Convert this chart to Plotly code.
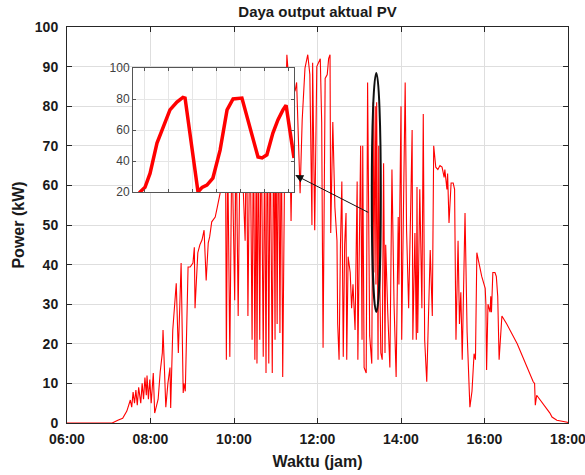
import plotly.graph_objects as go

# ---------------- data ----------------
DAY = "2024-01-01 "

time_labels = [
    "06:00", "07:05", "07:13", "07:20", "07:26", "07:31", "07:33", "07:35", "07:37", "07:39",
    "07:41", "07:43", "07:46", "07:48", "07:50", "07:52", "07:54", "07:55", "07:57", "07:59",
    "08:01", "08:04", "08:06", "08:11", "08:14", "08:17", "08:18", "08:20", "08:22", "08:25",
    "08:28", "08:29", "08:32", "08:37", "08:40", "08:44", "08:47", "08:48", "08:50", "08:54",
    "08:57", "09:01", "09:03", "09:04", "09:08", "09:11", "09:14", "09:17", "09:20", "09:23",
    "09:25", "09:28", "09:33", "09:36", "09:40", "09:43", "09:46", "09:48", "09:49", "09:51",
    "09:54", "09:57", "10:01", "10:03", "10:06", "10:09", "10:11", "10:16", "10:18", "10:20",
    "10:23", "10:26", "10:28", "10:30", "10:32", "10:33", "10:35", "10:37", "10:39", "10:42",
    "10:44", "10:46", "10:48", "10:50", "10:52", "10:55", "10:57", "10:59", "11:00", "11:02",
    "11:04", "11:06", "11:08", "11:10", "11:13", "11:16", "11:19", "11:22", "11:25", "11:28",
    "11:30", "11:35", "11:38", "11:42", "11:46", "11:49", "11:52", "11:53", "11:56", "11:59",
    "12:04", "12:06", "12:08", "12:11", "12:14", "12:16", "12:18", "12:19", "12:21", "12:22",
    "12:25", "12:28", "12:29", "12:31", "12:33", "12:35", "12:37", "12:39", "12:41", "12:42",
    "12:44", "12:47", "12:49", "12:51", "12:54", "12:57", "12:58", "13:01", "13:02", "13:04",
    "13:05", "13:07", "13:10", "13:12", "13:14", "13:15", "13:18", "13:20", "13:21", "13:23",
    "13:24", "13:25", "13:27", "13:28", "13:30", "13:31", "13:33", "13:35", "13:37", "13:38",
    "13:41", "13:44", "13:47", "13:50", "13:53", "13:56", "13:57", "14:00", "14:01", "14:03",
    "14:06", "14:08", "14:11", "14:14", "14:16", "14:17", "14:20", "14:22", "14:23", "14:24",
    "14:27", "14:30", "14:32", "14:34", "14:37", "14:42", "14:45", "14:47", "14:50", "14:53",
    "14:56", "14:59", "15:02", "15:03", "15:06", "15:07", "15:09", "15:12", "15:15", "15:17",
    "15:19", "15:22", "15:24", "15:26", "15:28", "15:32", "15:35", "15:39", "15:42", "15:45",
    "15:47", "15:49", "15:53", "15:56", "16:01", "16:02", "16:03", "16:05", "16:08", "16:09",
    "16:10", "16:12", "16:15", "16:17", "16:19", "16:21", "16:25", "16:32", "16:47", "17:01",
    "17:10", "17:12", "17:13", "17:15", "17:24", "17:34", "17:37", "17:44", "17:59", "18:00",
]

power_kw = [
    0, 0, 0.7, 1.2, 3, 5.8, 4, 7.8, 5, 8.3,
    4.5, 9, 5, 10, 6, 11.5, 7, 12, 6, 11,
    5, 12.6, 2.5, 6, 13, 17.7, 23.5, 14, 4, 10,
    14, 3.8, 23.5, 35.3, 17.7, 40.4, 7.6, 10, 8, 39.4,
    39.4, 40.4, 44.4, 29, 43, 45, 46.2, 48.7, 36, 45.5,
    47, 50.8, 52, 54.5, 58, 65, 70, 62, 16, 68,
    16.7, 72, 31, 74, 27, 76, 70, 46, 78, 27,
    80, 21, 78, 16, 70, 15, 75, 21, 80, 16.7,
    72, 12.6, 82, 15, 76, 12.6, 80, 21, 84, 25,
    82, 22.7, 78, 11.6, 70, 93, 86, 51, 83, 84,
    86, 58, 76.5, 89.6, 93, 88, 50, 91, 48.7, 90,
    92, 76, 19, 87, 88, 92, 93, 48, 71.5, 76,
    54.5, 46, 25, 16, 45, 61, 16.7, 45, 53, 16,
    42, 38, 29, 35, 23.5, 61, 16, 63, 70, 21,
    70, 14, 12.6, 86, 30, 22, 15, 81, 38, 80,
    35, 81, 16, 70, 30, 17.7, 16, 65.6, 17.7, 45,
    27.8, 14, 64, 30, 11.6, 52, 35, 80, 21, 46,
    86, 48.7, 29, 55, 74, 21, 48, 21, 59.6, 22.7,
    59, 29, 78, 21, 10.4, 43.7, 27, 70, 64.6, 64,
    65, 64.6, 62, 64, 59, 63, 50.5, 60.6, 60.6, 59,
    21, 46, 25, 33, 16, 53, 23, 4, 8, 17.5,
    16, 43, 39, 37, 34, 30, 13.4, 30, 28, 32,
    28, 38, 38, 37, 32, 16, 27, 25, 20, 14,
    10.4, 10, 4.5, 7, 5, 2.5, 1.5, 0.7, 0.2, 0,
]

# zoomed inset (sample index scale)
inset_x = [0.21, 0.29, 0.5, 0.71, 1.0, 1.25, 1.54, 1.83, 2.08, 2.17, 2.71, 2.88, 3.08,
           3.33, 3.63, 3.92, 4.17, 4.54, 5.21, 5.38, 5.58, 5.83, 6.04, 6.25, 6.38, 6.71]
inset_y = [18, 20, 23, 32, 51.6, 62, 73, 78, 81, 80.6, 20, 23, 24.5,
           29, 47, 73, 80, 80.6, 42.6, 42, 44, 58, 66.5, 73, 76, 42]

x_tick_labels = ["06:00", "08:00", "10:00", "12:00", "14:00", "16:00", "18:00"]
y_ticks = [0, 10, 20, 30, 40, 50, 60, 70, 80, 90, 100]
inset_y_ticks = [20, 40, 60, 80, 100]

# highlighted region (ellipse) and arrow target
ellipse_t = ["13:18", "13:31"]
ellipse_p = [28, 88.4]
arrow_head = ("11:28", 62.6)
arrow_tail = ("13:15", 53)

# ---------------- figure ----------------
times = [DAY + t for t in time_labels]
AX = "#262626"
GRID = "#dedede"
FAM = "Liberation Sans, Arial, sans-serif"

fig = go.Figure()
fig.add_trace(go.Scatter(x=times, y=power_kw, mode="lines",
                         line=dict(color="#ff0000", width=1.1), xaxis="x", yaxis="y",
                         showlegend=False, hoverinfo="skip"))
fig.add_trace(go.Scatter(x=inset_x, y=inset_y, mode="lines",
                         line=dict(color="#ff0000", width=3.5), xaxis="x2", yaxis="y2",
                         showlegend=False, hoverinfo="skip"))

bold = dict(family=FAM, size=14, color="#1a1a1a")
label_font = dict(family=FAM, size=16, color="#1a1a1a")

fig.update_layout(
    width=585, height=475,
    margin=dict(l=67, r=17, t=27, b=52),
    paper_bgcolor="white", plot_bgcolor="white",
    font=dict(family=FAM, color="#1a1a1a"),
    title=dict(text="<b>Daya output aktual PV</b>", x=0.5, xref="paper", xanchor="center",
               yref="container", y=0.975, yanchor="middle",
               font=dict(size=15, family=FAM, color="#1a1a1a")),
    xaxis=dict(
        type="date", domain=[0, 1], automargin=False,
        range=[DAY + x_tick_labels[0], DAY + x_tick_labels[-1]],
        tickvals=[DAY + t for t in x_tick_labels],
        ticktext=["<b>%s</b>" % t for t in x_tick_labels],
        tickfont=bold, ticks="inside", ticklen=5, tickcolor=AX,
        ticklabeloverflow="allow", ticklabelstandoff=3,
        showline=True, linecolor=AX, linewidth=1, mirror="ticks",
        showgrid=True, gridcolor=GRID, gridwidth=1, zeroline=False,
        title=dict(text="<b>Waktu (jam)</b>", font=label_font, standoff=10),
    ),
    yaxis=dict(
        range=[0, 100], domain=[0, 1], automargin=False,
        tickvals=y_ticks, ticktext=["<b>%d</b>" % v for v in y_ticks],
        tickfont=bold, ticks="inside", ticklen=5, tickcolor=AX,
        ticklabelstandoff=5,
        showline=True, linecolor=AX, linewidth=1, mirror="ticks",
        showgrid=True, gridcolor=GRID, gridwidth=1, zeroline=False,
        title=dict(text="<b>Power (kW)</b>", font=label_font, standoff=6),
    ),
    xaxis2=dict(
        domain=[(133 - 67) / 501, (294 - 67) / 501], anchor="y2", automargin=False,
        range=[0, 6.71], tick0=0.46, dtick=1, showticklabels=False,
        ticks="inside", ticklen=3, tickcolor="#555555",
        showline=True, linecolor="#555555", linewidth=1, mirror="ticks",
        showgrid=True, gridcolor="#e6e6e6", zeroline=False,
    ),
    yaxis2=dict(
        domain=[(423 - 192) / 396, (423 - 68) / 396], anchor="x2", automargin=False,
        range=[20, 100], tickvals=inset_y_ticks,
        tickfont=dict(size=12, color="#404040", family=FAM),
        ticks="inside", ticklen=3, tickcolor="#555555",
        showline=True, linecolor="#555555", linewidth=1, mirror="ticks",
        showgrid=True, gridcolor="#e6e6e6", zeroline=False,
    ),
)

fig.add_shape(type="circle", xref="x", yref="y",
              x0=DAY + ellipse_t[0], x1=DAY + ellipse_t[1],
              y0=ellipse_p[0], y1=ellipse_p[1],
              line=dict(color="#111111", width=2), layer="above")

fig.add_annotation(x=DAY + arrow_head[0], y=arrow_head[1], xref="x", yref="y",
                   ax=DAY + arrow_tail[0], ay=arrow_tail[1], axref="x", ayref="y",
                   text="", showarrow=True, arrowhead=2, arrowsize=1.6,
                   arrowwidth=1, arrowcolor="#111111")

fig.write_html("out.html", config={"displayModeBar": False},
               post_script="document.body.style.margin='0px';document.body.style.overflow='hidden';")
